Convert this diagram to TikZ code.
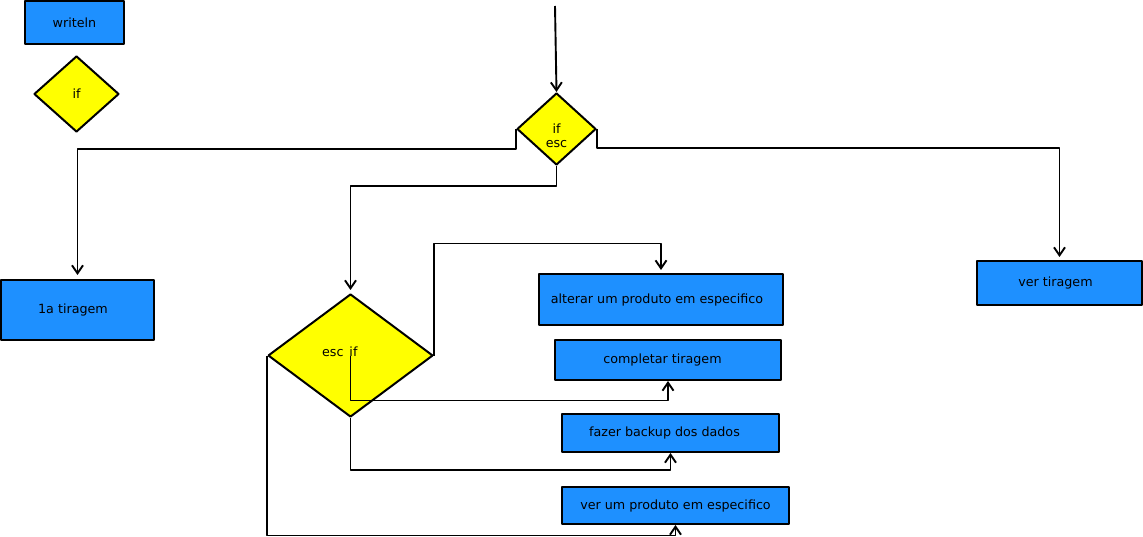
\documentclass[tikz,border=0pt]{standalone}
\usepackage{fontspec}
\setmainfont{DejaVu Sans}
\usetikzlibrary{arrows.meta,shapes.geometric,positioning}
\definecolor{azul}{HTML}{1E90FF}
\definecolor{amarelo}{HTML}{FFFF00}

\begin{document}
\begin{tikzpicture}[x=1pt,y=-1pt,>={Straight Barb[length=8pt,width=11pt]},line join=bevel,
  every node/.style={font=\fontsize{12.7}{14}\selectfont},
  caixa/.style={draw,line width=2pt,fill=azul,inner sep=0pt},
  decisao/.style={draw,diamond,line width=2pt,fill=amarelo,inner sep=0pt},
  seta/.style={->,line width=1.9pt}]
\useasboundingbox (0,0) rectangle (1143,537);
\node [caixa,minimum width=99pt,minimum height=43pt] (writeln) at (74.5,22.5) {writeln};
\node [decisao,minimum width=85pt,minimum height=76pt] (if) at (76.5,94) {if};
\coordinate (inicio) at (555,6);
\node [decisao,minimum width=79pt,minimum height=72pt] (esc) at (556.5,129)
  {\raisebox{-11.4pt}[0pt][0pt]{\begin{tabular}{@{}c@{}}if\\esc\end{tabular}}};

\node [caixa,minimum width=153pt,minimum height=60pt] (tir1) at (77.5,310) {1a tiragem\kern9pt};
\node [caixa,minimum width=165pt,minimum height=44pt] (vertir) at (1059.5,283) {ver tiragem\kern8pt};
\node [decisao,minimum width=165pt,minimum height=123pt] (escif) at (350.5,355.5)
  {\raisebox{-1.5pt}[0pt][0pt]{\hspace{6pt}\llap{esc\hspace{6pt}}if}};

\node [caixa,minimum width=244pt,minimum height=51pt] (alterar) at (661,299.5) {alterar um produto em especifico\kern8pt};
\node [caixa,minimum width=226pt,minimum height=40pt] (completar) at (668,360) {completar tiragem\kern11pt};
\node [caixa,minimum width=217pt,minimum height=38pt] (backup) at (670.5,433) {fazer backup dos dados\kern12pt};
\node [caixa,minimum width=227pt,minimum height=37pt] (verum) at (675.5,505.5) {ver um produto em especifico};

\draw [seta] (inicio) -- (esc.north);
\draw [seta,shorten >=4pt] (esc.west) -- ++(0,20) -| (tir1.north);
\draw [seta,shorten >=3pt] (esc.east) -- ++(0,19) -| (vertir.north);
\draw [seta,shorten >=3pt] (esc.south) -- ++(0,20) -| (escif.north);
\draw [seta,shorten >=3pt] (escif.east) -- ++(0,-112) -| (alterar.north);
\draw [seta] (escif.center) -- ++(0,45) -| (completar.south);
\draw [seta] (escif.south) -- ++(0,52) -| (backup.south);
\draw [seta] (escif.west) -- ++(0,180) -| (verum.south);
\end{tikzpicture}
\end{document}
